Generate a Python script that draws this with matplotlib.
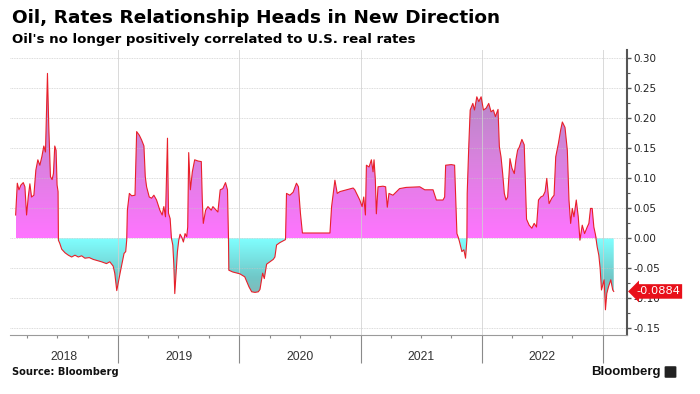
import numpy as np
import pandas as pd
import matplotlib
matplotlib.use('Agg')
import matplotlib.pyplot as plt
import matplotlib.dates as mdates
import matplotlib.transforms as mtransforms
from matplotlib.colors import LinearSegmentedColormap
from matplotlib.patches import FancyBboxPatch

# 1-year rolling correlation, oil vs US real rates
dates = [
    '2018-02-25', '2018-03-02', '2018-03-07', '2018-03-13', '2018-03-20', '2018-03-25',
    '2018-03-30', '2018-04-04', '2018-04-09', '2018-04-14', '2018-04-21', '2018-04-27',
    '2018-05-03', '2018-05-09', '2018-05-15', '2018-05-21', '2018-05-26', '2018-06-01',
    '2018-06-05', '2018-06-10', '2018-06-15', '2018-06-19', '2018-06-23', '2018-06-27',
    '2018-06-30', '2018-07-03', '2018-07-04', '2018-07-08', '2018-07-14', '2018-07-24',
    '2018-08-03', '2018-08-13', '2018-08-23', '2018-09-02', '2018-09-12', '2018-09-22',
    '2018-10-05', '2018-10-17', '2018-10-29', '2018-11-11', '2018-11-26', '2018-12-06',
    '2018-12-16', '2018-12-21', '2018-12-24', '2018-12-27', '2019-01-01', '2019-01-06',
    '2019-01-11', '2019-01-18', '2019-01-23', '2019-01-26', '2019-01-28', '2019-02-03',
    '2019-02-10', '2019-02-20', '2019-02-25', '2019-03-05', '2019-03-12', '2019-03-19',
    '2019-03-23', '2019-03-27', '2019-04-04', '2019-04-11', '2019-04-18', '2019-04-26',
    '2019-05-06', '2019-05-13', '2019-05-18', '2019-05-23', '2019-05-29', '2019-06-01',
    '2019-06-06', '2019-06-10', '2019-06-14', '2019-06-17', '2019-06-20', '2019-06-24',
    '2019-06-28', '2019-07-02', '2019-07-06', '2019-07-11', '2019-07-16', '2019-07-21',
    '2019-07-26', '2019-07-29', '2019-08-01', '2019-08-06', '2019-08-12', '2019-08-19',
    '2019-08-29', '2019-09-08', '2019-09-11', '2019-09-14', '2019-09-21', '2019-09-28',
    '2019-10-08', '2019-10-13', '2019-10-23', '2019-10-28', '2019-11-04', '2019-11-12',
    '2019-11-20', '2019-11-26', '2019-11-29', '2019-11-30', '2019-12-12', '2020-01-02',
    '2020-01-17', '2020-01-30', '2020-02-07', '2020-02-17', '2020-02-27', '2020-03-03',
    '2020-03-11', '2020-03-16', '2020-03-23', '2020-04-02', '2020-04-12', '2020-04-17',
    '2020-04-22', '2020-05-02', '2020-05-12', '2020-05-19', '2020-05-22', '2020-06-01',
    '2020-06-11', '2020-06-21', '2020-06-27', '2020-07-03', '2020-07-09', '2020-09-30',
    '2020-10-05', '2020-10-15', '2020-10-22', '2020-10-30', '2020-11-19', '2020-12-09',
    '2020-12-14', '2020-12-29', '2021-01-05', '2021-01-10', '2021-01-15', '2021-01-18',
    '2021-01-26', '2021-02-02', '2021-02-07', '2021-02-10', '2021-02-14', '2021-02-17',
    '2021-02-22', '2021-03-09', '2021-03-17', '2021-03-22', '2021-03-27', '2021-04-08',
    '2021-04-28', '2021-05-18', '2021-06-28', '2021-07-13', '2021-08-07', '2021-08-17',
    '2021-09-06', '2021-09-11', '2021-09-14', '2021-10-01', '2021-10-11', '2021-10-16',
    '2021-10-18', '2021-10-22', '2021-10-26', '2021-11-02', '2021-11-08', '2021-11-13',
    '2021-11-17', '2021-11-18', '2021-11-23', '2021-11-27', '2021-12-05', '2021-12-10',
    '2021-12-17', '2021-12-23', '2021-12-30', '2022-01-06', '2022-01-14', '2022-01-22',
    '2022-01-29', '2022-02-05', '2022-02-11', '2022-02-19', '2022-02-23', '2022-02-28',
    '2022-03-05', '2022-03-10', '2022-03-15', '2022-03-20', '2022-03-27', '2022-04-02',
    '2022-04-09', '2022-04-14', '2022-04-19', '2022-04-24', '2022-05-02', '2022-05-09',
    '2022-05-16', '2022-05-24', '2022-06-01', '2022-06-08', '2022-06-15', '2022-06-21',
    '2022-06-28', '2022-07-05', '2022-07-11', '2022-07-16', '2022-07-23', '2022-07-31',
    '2022-08-07', '2022-08-12', '2022-08-20', '2022-08-27', '2022-09-01', '2022-09-09',
    '2022-09-16', '2022-09-21', '2022-09-26', '2022-10-01', '2022-10-06', '2022-10-13',
    '2022-10-19', '2022-10-24', '2022-10-31', '2022-11-07', '2022-11-15', '2022-11-20',
    '2022-11-25', '2022-11-30', '2022-12-05', '2022-12-10', '2022-12-15', '2022-12-20',
    '2022-12-24', '2022-12-28', '2023-01-05', '2023-01-09', '2023-01-13', '2023-01-18',
    '2023-01-25', '2023-01-31', '2023-02-03',
]
corr = [
    0.039, 0.092, 0.081, 0.089, 0.093, 0.086,
    0.039, 0.069, 0.091, 0.069, 0.072, 0.114,
    0.131, 0.122, 0.136, 0.154, 0.144, 0.275,
    0.186, 0.103, 0.098, 0.108, 0.154, 0.147,
    0.089, 0.078, -0.003, -0.008, -0.018, -0.024,
    -0.028, -0.031, -0.028, -0.031, -0.029, -0.033,
    -0.032, -0.035, -0.037, -0.039, -0.042, -0.039,
    -0.046, -0.058, -0.072, -0.087, -0.072, -0.058,
    -0.044, -0.025, -0.022, -0.003, 0.047, 0.075,
    0.071, 0.072, 0.178, 0.172, 0.164, 0.154,
    0.103, 0.086, 0.069, 0.067, 0.072, 0.064,
    0.047, 0.039, 0.053, 0.036, 0.167, 0.042,
    0.033, 0.000, -0.011, -0.042, -0.092, -0.058,
    -0.022, -0.003, 0.007, 0.002, -0.006, 0.008,
    0.003, 0.019, 0.143, 0.081, 0.111, 0.131,
    0.129, 0.128, 0.064, 0.025, 0.047, 0.053,
    0.047, 0.053, 0.047, 0.044, 0.081, 0.083,
    0.093, 0.081, 0.000, -0.053, -0.056, -0.059,
    -0.064, -0.081, -0.089, -0.090, -0.089, -0.085,
    -0.058, -0.067, -0.043, -0.039, -0.035, -0.031,
    -0.011, -0.007, -0.004, -0.002, 0.075, 0.072,
    0.077, 0.092, 0.086, 0.042, 0.009, 0.009,
    0.053, 0.097, 0.075, 0.078, 0.081, 0.084,
    0.081, 0.064, 0.053, 0.069, 0.039, 0.122,
    0.119, 0.131, 0.111, 0.131, 0.097, 0.041,
    0.086, 0.087, 0.086, 0.052, 0.075, 0.072,
    0.083, 0.085, 0.086, 0.081, 0.081, 0.064,
    0.064, 0.069, 0.122, 0.123, 0.122, 0.042,
    0.008, 0.002, -0.006, -0.022, -0.019, -0.033,
    -0.003, 0.075, 0.158, 0.214, 0.225, 0.214,
    0.236, 0.228, 0.236, 0.214, 0.217, 0.225,
    0.211, 0.214, 0.203, 0.215, 0.153, 0.136,
    0.108, 0.075, 0.064, 0.069, 0.133, 0.117,
    0.108, 0.131, 0.147, 0.152, 0.165, 0.156,
    0.032, 0.022, 0.017, 0.025, 0.019, 0.064,
    0.069, 0.071, 0.078, 0.100, 0.058, 0.067,
    0.072, 0.136, 0.158, 0.181, 0.194, 0.185,
    0.147, 0.064, 0.025, 0.050, 0.036, 0.064,
    0.036, -0.003, 0.022, 0.008, 0.019, 0.025,
    0.050, 0.050, 0.019, 0.006, -0.014, -0.028,
    -0.050, -0.086, -0.069, -0.119, -0.092, -0.081,
    -0.069, -0.086, -0.0884,
]
years = [2018, 2019, 2020, 2021, 2022]
yticks = [-0.15, -0.10, -0.05, 0.00, 0.05, 0.10, 0.15, 0.20, 0.25, 0.30]

title = 'Oil, Rates Relationship Heads in New Direction'
subtitle = "Oil's no longer positively correlated to U.S. real rates"

x = mdates.date2num(pd.to_datetime(dates))
v = np.array(corr)
last = corr[-1]

xmin = mdates.date2num(pd.Timestamp('2018-02-08'))
xmax = mdates.date2num(pd.Timestamp('2023-03-15'))
ymin, ymax = -0.161, 0.314

fig = plt.figure(figsize=(7, 3.94), dpi=100)
ax = fig.add_axes([10 / 700, 59 / 394, 617 / 700, 285 / 394])

# gradient fills, clipped to the area under the line
pos_cmap = LinearSegmentedColormap.from_list('pos', ['#ff74ff', '#d982de', '#b08ac2'])
neg_cmap = LinearSegmentedColormap.from_list('neg', ['#9aa6a6', '#70c8c8', '#80ffff'])
grad = np.linspace(0, 1, 256).reshape(-1, 1)

poly = ax.fill_between(x, 0, np.clip(v, 0, None), facecolor='none', edgecolor='none')
img = ax.imshow(grad, extent=[x[0], x[-1], 0, 0.26], aspect='auto', origin='lower',
                cmap=pos_cmap, zorder=1)
img.set_clip_path(poly.get_paths()[0], ax.transData)

poly = ax.fill_between(x, np.clip(v, None, 0), 0, facecolor='none', edgecolor='none')
img = ax.imshow(grad, extent=[x[0], x[-1], -0.13, 0], aspect='auto', origin='lower',
                cmap=neg_cmap, zorder=1)
img.set_clip_path(poly.get_paths()[0], ax.transData)

ax.plot(x, v, color='#e8202a', lw=0.8, zorder=3)

ax.set_xlim(xmin, xmax)
ax.set_ylim(ymin, ymax)

# grid
for t in yticks:
    ax.axhline(t, color='#c4c4c4', lw=0.6, ls=(0, (1, 1)), zorder=2.5, alpha=0.8)
for yr in years[1:] + [2023]:
    ax.axvline(mdates.date2num(pd.Timestamp(f'{yr}-01-01')), color='#d0d0d0', lw=0.7,
               zorder=2.5, alpha=0.8)

# right value axis
ax.yaxis.tick_right()
ax.set_yticks(yticks)
ax.set_yticklabels([f'{t:.2f}' for t in yticks])
ax.set_yticks(np.arange(-0.15, 0.301, 0.025), minor=True)
ax.tick_params(axis='y', which='major', length=3, width=1, color='#555555',
               labelsize=7.5, labelcolor='#222222', pad=1.5)
ax.tick_params(axis='y', which='minor', length=2, width=0.8, color='#555555')
for s in ['top', 'left']:
    ax.spines[s].set_visible(False)
ax.spines['right'].set_color('#555555')
ax.spines['right'].set_linewidth(1.5)
ax.spines['bottom'].set_color('#9a9a9a')
ax.spines['bottom'].set_linewidth(0.8)

# time axis: long year separators, short quarter ticks
ax.xaxis.set_major_locator(mdates.YearLocator())
ax.xaxis.set_minor_locator(mdates.MonthLocator(bymonth=[4, 7, 10]))
ax.xaxis.set_major_formatter(plt.NullFormatter())
ax.tick_params(axis='x', which='major', length=20, width=0.8, color='#8a8a8a')
ax.tick_params(axis='x', which='minor', length=2.5, width=0.8, color='#8a8a8a')

trans = mtransforms.blended_transform_factory(ax.transData, fig.transFigure)
for yr in years:
    a = max(mdates.date2num(pd.Timestamp(f'{yr}-01-01')), xmin)
    b = mdates.date2num(pd.Timestamp(f'{yr + 1}-01-01'))
    ax.text((a + b) / 2, 1 - 357 / 394, str(yr), transform=trans, ha='center', va='center',
            fontsize=8.8, color='#333333', family='Liberation Sans')

# last value badge
btrans = mtransforms.blended_transform_factory(fig.transFigure, ax.transData)
ax.text(636 / 700, last, f'{last:.4f}', transform=btrans, ha='left', va='center',
        fontsize=8.2, color='white', clip_on=False, zorder=5,
        bbox=dict(boxstyle='larrow,pad=0.2', facecolor='#e8101a', edgecolor='none'))

# titles and footer
fig.text(12 / 700, 1 - 18 / 394, title, fontsize=13.3, fontweight='bold', va='center', color='black')
fig.text(12 / 700, 1 - 40 / 394, subtitle, fontsize=9.6, fontweight='bold', va='center', color='black')
fig.text(12 / 700, 1 - 372 / 394, 'Source: Bloomberg', fontsize=7.1, fontweight='bold', va='center',
         color='#111111')
fig.text(661 / 700, 1 - 372 / 394, 'Bloomberg', fontsize=9.5, fontweight='bold', va='center', ha='right',
         color='#111111', family='Liberation Sans')
logo = FancyBboxPatch((666 / 700, 1 - 377 / 394), 9 / 700, 10 / 394, boxstyle='round,pad=0.002',
                      transform=fig.transFigure, facecolor='#222222', edgecolor='none')
fig.patches.append(logo)

plt.savefig('out.png', dpi=100)
